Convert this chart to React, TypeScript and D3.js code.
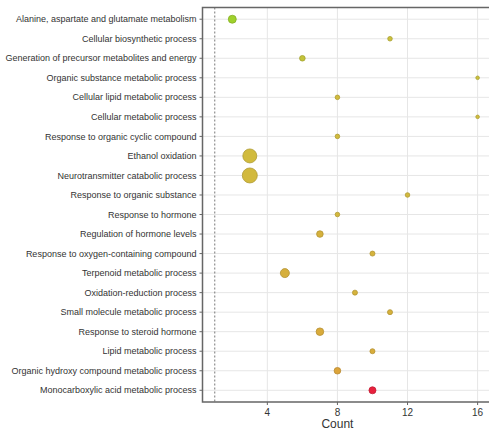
import React from "react";
import * as d3 from "d3";

const terms = [
  "Alanine, aspartate and glutamate metabolism",
  "Cellular biosynthetic process",
  "Generation of precursor metabolites and energy",
  "Organic substance metabolic process",
  "Cellular lipid metabolic process",
  "Cellular metabolic process",
  "Response to organic cyclic compound",
  "Ethanol oxidation",
  "Neurotransmitter catabolic process",
  "Response to organic substance",
  "Response to hormone",
  "Regulation of hormone levels",
  "Response to oxygen-containing compound",
  "Terpenoid metabolic process",
  "Oxidation-reduction process",
  "Small molecule metabolic process",
  "Response to steroid hormone",
  "Lipid metabolic process",
  "Organic hydroxy compound metabolic process",
  "Monocarboxylic acid metabolic process",
];

const counts = [2, 11, 6, 16, 8, 16, 8, 3, 3, 12, 8, 7, 10, 5, 9, 11, 7, 10, 8, 10];

// enrichment ratio -> dot size
const richFactor = [
  0.17, 0.056, 0.084, 0.035, 0.056, 0.035, 0.056, 0.52, 0.6, 0.056,
  0.056, 0.116, 0.067, 0.216, 0.067, 0.067, 0.154, 0.067, 0.116, 0.131,
];

// scaled significance -> dot colour
const significance = [
  0, 0.3, 0.25, 0.3, 0.38, 0.35, 0.38, 0.38, 0.4, 0.4,
  0.42, 0.5, 0.48, 0.52, 0.48, 0.5, 0.58, 0.55, 0.66, 1,
];

const xTicks = [4, 8, 12, 16];
const cutoff = 1;

const W = 489;
const H = 431;
const margin = { top: 7.5, right: 0, bottom: 29, left: 202.5 };

export default function App() {
  const x = d3
    .scaleLinear()
    .domain([0.3, 16.65])
    .range([margin.left, W - margin.right]);

  const y = d3
    .scalePoint<string>()
    .domain(terms)
    .range([margin.top, H - margin.bottom])
    .padding(0.6);

  const r = d3
    .scaleSqrt()
    .domain([0, d3.max(richFactor) as number])
    .range([0, 7.5]);

  const color = d3
    .scaleLinear<string>()
    .domain([0, 0.33, 0.66, 1])
    .range(["#9fd12c", "#cfbf3e", "#dca43a", "#e8213d"]);

  const bottom = H - margin.bottom;
  const font = "'Liberation Sans', Arial, sans-serif";

  return (
    <svg
      width={W}
      height={H}
      style={{ position: "absolute", left: 0, top: 0, background: "#fff" }}
      fontFamily={font}
    >
      {/* grid */}
      <g stroke="#e6e6e6" strokeWidth={1}>
        {xTicks.map((t) => (
          <line key={t} x1={x(t)} x2={x(t)} y1={margin.top} y2={bottom} />
        ))}
        {terms.map((t) => (
          <line key={t} x1={margin.left} x2={W} y1={y(t)} y2={y(t)} />
        ))}
      </g>

      {/* cutoff line */}
      <line
        x1={x(cutoff)}
        x2={x(cutoff)}
        y1={margin.top}
        y2={bottom}
        stroke="#777"
        strokeWidth={1}
        strokeDasharray="2,2"
      />

      {/* frame */}
      <path
        d={`M${W},${margin.top}H${margin.left}V${bottom}H${W}`}
        fill="none"
        stroke="#666"
        strokeWidth={1.5}
      />

      {/* y axis */}
      <g fontSize={9} fill="#333" textAnchor="end">
        {terms.map((t) => (
          <g key={t} transform={`translate(0,${y(t)})`}>
            <line x1={margin.left - 3} x2={margin.left} stroke="#666" />
            <text x={margin.left - 6} dy="0.35em">
              {t}
            </text>
          </g>
        ))}
      </g>

      {/* x axis */}
      <g fontSize={10} fill="#333" textAnchor="middle">
        {xTicks.map((t) => (
          <g key={t} transform={`translate(${x(t)},${bottom})`}>
            <line y1={0} y2={3} stroke="#666" />
            <text y={14}>{t}</text>
          </g>
        ))}
        <text x={x(8)} y={H - 3} fontSize={12}>
          Count
        </text>
      </g>

      {/* dots */}
      <g>
        {terms.map((t, i) => {
          const c = color(significance[i]);
          return (
            <circle
              key={t}
              cx={x(counts[i])}
              cy={y(t)}
              r={r(richFactor[i])}
              fill={c}
              stroke={d3.color(c)!.darker(0.5).toString()}
              strokeWidth={0.8}
            />
          );
        })}
      </g>
    </svg>
  );
}
